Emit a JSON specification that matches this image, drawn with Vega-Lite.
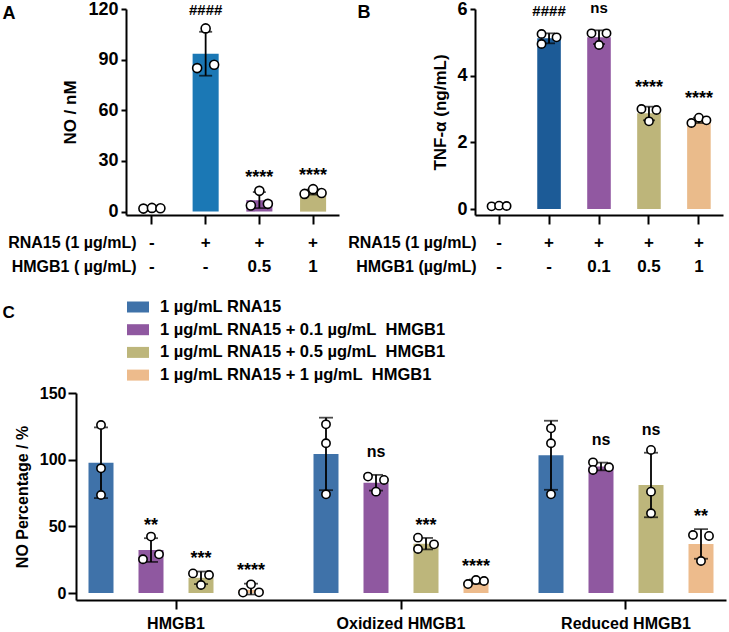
{
  "$schema": "https://vega.github.io/schema/vega-lite/v6.json",
  "padding": {"left": 2, "top": 0, "right": 0, "bottom": 0},
  "config": {
    "view": {"stroke": null},
    "font": "Liberation Sans",
    "axis": {"domainColor": "black", "tickColor": "black", "labelColor": "black", "titleColor": "black", "labelFontWeight": "bold", "titleFontWeight": "bold", "domainWidth": 2, "tickWidth": 2, "grid": false},
    "legend": {"labelColor": "black"}
  },
  "datasets": {
    "A_bars": [
      {"cond": "-|-", "mean": 2.0, "lo": 1.8, "hi": 2.2, "sig": ""},
      {"cond": "+|-", "mean": 93.5, "lo": 80.5, "hi": 106.5, "sig": "####"},
      {"cond": "+|0.5", "mean": 6.8, "lo": 2.1, "hi": 11.6, "sig": "****"},
      {"cond": "+|1", "mean": 11.6, "lo": 10.1, "hi": 13.1, "sig": "****"}
    ],
    "A_pts": [
      {"cond": "-|-", "pos": "L", "v": 1.8}, {"cond": "-|-", "pos": "C", "v": 2.2}, {"cond": "-|-", "pos": "R", "v": 2.0},
      {"cond": "+|-", "pos": "L", "v": 85.0}, {"cond": "+|-", "pos": "C", "v": 108.5}, {"cond": "+|-", "pos": "R", "v": 87.0},
      {"cond": "+|0.5", "pos": "L", "v": 3.6}, {"cond": "+|0.5", "pos": "C", "v": 12.3}, {"cond": "+|0.5", "pos": "R", "v": 4.6},
      {"cond": "+|1", "pos": "L", "v": 10.5}, {"cond": "+|1", "pos": "C", "v": 13.3}, {"cond": "+|1", "pos": "R", "v": 11.0}
    ],
    "B_bars": [
      {"cond": "-|-", "mean": 0.09, "lo": 0.07, "hi": 0.11, "sig": ""},
      {"cond": "+|-", "mean": 5.12, "lo": 4.97, "hi": 5.27, "sig": "####"},
      {"cond": "+|0.1", "mean": 5.15, "lo": 4.95, "hi": 5.36, "sig": "ns"},
      {"cond": "+|0.5", "mean": 2.87, "lo": 2.66, "hi": 3.07, "sig": "****"},
      {"cond": "+|1", "mean": 2.66, "lo": 2.58, "hi": 2.74, "sig": "****"}
    ],
    "B_pts": [
      {"cond": "-|-", "pos": "L", "v": 0.08}, {"cond": "-|-", "pos": "C", "v": 0.1}, {"cond": "-|-", "pos": "R", "v": 0.09},
      {"cond": "+|-", "pos": "L", "v": 5.25}, {"cond": "+|-", "pos": "L", "v": 4.95}, {"cond": "+|-", "pos": "R", "v": 5.15},
      {"cond": "+|0.1", "pos": "L", "v": 5.27}, {"cond": "+|0.1", "pos": "C", "v": 4.92}, {"cond": "+|0.1", "pos": "R", "v": 5.27},
      {"cond": "+|0.5", "pos": "L", "v": 3.0}, {"cond": "+|0.5", "pos": "C", "v": 2.63}, {"cond": "+|0.5", "pos": "R", "v": 2.97},
      {"cond": "+|1", "pos": "L", "v": 2.58}, {"cond": "+|1", "pos": "C", "v": 2.74}, {"cond": "+|1", "pos": "R", "v": 2.66}
    ],
    "C_bars": [
      {"group": "HMGB1", "series": "1 µg/mL RNA15", "mean": 97.7, "lo": 71.2, "hi": 124.2, "sig": ""},
      {"group": "HMGB1", "series": "1 µg/mL RNA15 + 0.1 µg/mL  HMGB1", "mean": 32.2, "lo": 23.3, "hi": 41.1, "sig": "**"},
      {"group": "HMGB1", "series": "1 µg/mL RNA15 + 0.5 µg/mL  HMGB1", "mean": 11.4, "lo": 6.7, "hi": 16.1, "sig": "***"},
      {"group": "HMGB1", "series": "1 µg/mL RNA15 + 1 µg/mL  HMGB1", "mean": 2.4, "lo": -1.1, "hi": 7.0, "sig": "****"},
      {"group": "Oxidized HMGB1", "series": "1 µg/mL RNA15", "mean": 104.3, "lo": 77.1, "hi": 131.5, "sig": ""},
      {"group": "Oxidized HMGB1", "series": "1 µg/mL RNA15 + 0.1 µg/mL  HMGB1", "mean": 82.7, "lo": 76.8, "hi": 88.6, "sig": "ns"},
      {"group": "Oxidized HMGB1", "series": "1 µg/mL RNA15 + 0.5 µg/mL  HMGB1", "mean": 37.0, "lo": 32.7, "hi": 41.3, "sig": "***"},
      {"group": "Oxidized HMGB1", "series": "1 µg/mL RNA15 + 1 µg/mL  HMGB1", "mean": 8.5, "lo": 6.9, "hi": 10.1, "sig": "****"},
      {"group": "Reduced HMGB1", "series": "1 µg/mL RNA15", "mean": 103.3, "lo": 77.4, "hi": 129.2, "sig": ""},
      {"group": "Reduced HMGB1", "series": "1 µg/mL RNA15 + 0.1 µg/mL  HMGB1", "mean": 94.9, "lo": 92.0, "hi": 97.8, "sig": "ns"},
      {"group": "Reduced HMGB1", "series": "1 µg/mL RNA15 + 0.5 µg/mL  HMGB1", "mean": 81.0, "lo": 56.8, "hi": 105.2, "sig": "ns"},
      {"group": "Reduced HMGB1", "series": "1 µg/mL RNA15 + 1 µg/mL  HMGB1", "mean": 36.8, "lo": 25.7, "hi": 47.9, "sig": "**"}
    ],
    "C_pts": [
      {"group": "HMGB1", "series": "1 µg/mL RNA15", "pos": "C", "v": 126.0},
      {"group": "HMGB1", "series": "1 µg/mL RNA15", "pos": "C", "v": 93.5},
      {"group": "HMGB1", "series": "1 µg/mL RNA15", "pos": "C", "v": 73.5},
      {"group": "HMGB1", "series": "1 µg/mL RNA15 + 0.1 µg/mL  HMGB1", "pos": "C", "v": 42.3},
      {"group": "HMGB1", "series": "1 µg/mL RNA15 + 0.1 µg/mL  HMGB1", "pos": "L", "v": 25.3},
      {"group": "HMGB1", "series": "1 µg/mL RNA15 + 0.1 µg/mL  HMGB1", "pos": "R", "v": 29.0},
      {"group": "HMGB1", "series": "1 µg/mL RNA15 + 0.5 µg/mL  HMGB1", "pos": "L", "v": 14.7},
      {"group": "HMGB1", "series": "1 µg/mL RNA15 + 0.5 µg/mL  HMGB1", "pos": "R", "v": 13.5},
      {"group": "HMGB1", "series": "1 µg/mL RNA15 + 0.5 µg/mL  HMGB1", "pos": "C", "v": 6.0},
      {"group": "HMGB1", "series": "1 µg/mL RNA15 + 1 µg/mL  HMGB1", "pos": "C", "v": 6.5},
      {"group": "HMGB1", "series": "1 µg/mL RNA15 + 1 µg/mL  HMGB1", "pos": "L", "v": 0.3},
      {"group": "HMGB1", "series": "1 µg/mL RNA15 + 1 µg/mL  HMGB1", "pos": "R", "v": 0.5},
      {"group": "Oxidized HMGB1", "series": "1 µg/mL RNA15", "pos": "C", "v": 126.5},
      {"group": "Oxidized HMGB1", "series": "1 µg/mL RNA15", "pos": "C", "v": 112.3},
      {"group": "Oxidized HMGB1", "series": "1 µg/mL RNA15", "pos": "C", "v": 74.0},
      {"group": "Oxidized HMGB1", "series": "1 µg/mL RNA15 + 0.1 µg/mL  HMGB1", "pos": "L", "v": 87.3},
      {"group": "Oxidized HMGB1", "series": "1 µg/mL RNA15 + 0.1 µg/mL  HMGB1", "pos": "R", "v": 84.8},
      {"group": "Oxidized HMGB1", "series": "1 µg/mL RNA15 + 0.1 µg/mL  HMGB1", "pos": "C", "v": 76.0},
      {"group": "Oxidized HMGB1", "series": "1 µg/mL RNA15 + 0.5 µg/mL  HMGB1", "pos": "L", "v": 41.5},
      {"group": "Oxidized HMGB1", "series": "1 µg/mL RNA15 + 0.5 µg/mL  HMGB1", "pos": "L", "v": 33.0},
      {"group": "Oxidized HMGB1", "series": "1 µg/mL RNA15 + 0.5 µg/mL  HMGB1", "pos": "R", "v": 36.5},
      {"group": "Oxidized HMGB1", "series": "1 µg/mL RNA15 + 1 µg/mL  HMGB1", "pos": "L", "v": 6.7},
      {"group": "Oxidized HMGB1", "series": "1 µg/mL RNA15 + 1 µg/mL  HMGB1", "pos": "C", "v": 9.75},
      {"group": "Oxidized HMGB1", "series": "1 µg/mL RNA15 + 1 µg/mL  HMGB1", "pos": "R", "v": 9.0},
      {"group": "Reduced HMGB1", "series": "1 µg/mL RNA15", "pos": "C", "v": 123.5},
      {"group": "Reduced HMGB1", "series": "1 µg/mL RNA15", "pos": "C", "v": 112.3},
      {"group": "Reduced HMGB1", "series": "1 µg/mL RNA15", "pos": "C", "v": 74.0},
      {"group": "Reduced HMGB1", "series": "1 µg/mL RNA15 + 0.1 µg/mL  HMGB1", "pos": "L", "v": 98.0},
      {"group": "Reduced HMGB1", "series": "1 µg/mL RNA15 + 0.1 µg/mL  HMGB1", "pos": "L", "v": 92.3},
      {"group": "Reduced HMGB1", "series": "1 µg/mL RNA15 + 0.1 µg/mL  HMGB1", "pos": "R", "v": 94.3},
      {"group": "Reduced HMGB1", "series": "1 µg/mL RNA15 + 0.5 µg/mL  HMGB1", "pos": "C", "v": 107.3},
      {"group": "Reduced HMGB1", "series": "1 µg/mL RNA15 + 0.5 µg/mL  HMGB1", "pos": "C", "v": 76.0},
      {"group": "Reduced HMGB1", "series": "1 µg/mL RNA15 + 0.5 µg/mL  HMGB1", "pos": "C", "v": 59.8},
      {"group": "Reduced HMGB1", "series": "1 µg/mL RNA15 + 1 µg/mL  HMGB1", "pos": "L", "v": 43.5},
      {"group": "Reduced HMGB1", "series": "1 µg/mL RNA15 + 1 µg/mL  HMGB1", "pos": "R", "v": 42.8},
      {"group": "Reduced HMGB1", "series": "1 µg/mL RNA15 + 1 µg/mL  HMGB1", "pos": "C", "v": 24.0}
    ]
  },
  "resolve": {"scale": {"color": "independent", "shape": "independent", "x": "independent", "y": "independent"}},
  "spacing": 21,
  "vconcat": [
    {
      "spacing": 8,
      "resolve": {"scale": {"color": "independent", "shape": "independent", "x": "independent", "y": "independent"}},
      "hconcat": [
        {
          "width": 213,
          "height": 206,
          "resolve": {"axis": {"x": "independent"}},
          "layer": [
            {"data": {"name": "A_bars"}, "mark": {"type": "bar"},
              "encoding": {
                "x": {"field": "cond", "type": "nominal", "scale": {"domain": ["-|-", "+|-", "+|0.5", "+|1"], "paddingInner": 0.515, "paddingOuter": 0.24},
                  "axis": {"orient": "bottom", "title": ["RNA15 (1 µg/mL)", "HMGB1 ( µg/mL)"], "labelExpr": "split(datum.value, '|')", "labelAngle": 0, "labelFontSize": 17, "labelLineHeight": 24, "labelPadding": 10, "tickSize": 9, "titleFontSize": 16, "titleX": 10, "titleY": 19.5, "titleAlign": "right", "titleBaseline": "top", "titleLineHeight": 24, "titleAngle": 0}},
                "y": {"field": "mean", "type": "quantitative", "title": "NO / nM", "scale": {"domain": [-2, 120], "nice": false, "zero": false},
                  "axis": {"values": [0, 30, 60, 90, 120], "tickSize": 5, "labelFontSize": 18, "titleFontSize": 17, "titlePadding": 8, "labelPadding": 3}},
                "color": {"field": "cond", "type": "nominal", "scale": {"domain": ["-|-", "+|-", "+|0.5", "+|1"], "range": ["#c6daf0", "#1b78b5", "#8e56a0", "#bdb57a"]}, "legend": null}
              }},
            {"data": {"name": "A_bars"}, "mark": {"type": "rule", "color": "black", "strokeWidth": 1.8},
              "encoding": {
                "x": {"field": "cond", "type": "nominal",
                  "axis": {"orient": "top", "domain": false, "ticks": false, "labels": false, "title": "A", "titleX": -124, "titleY": 4, "titleAlign": "left", "titleBaseline": "middle", "titleAngle": 0, "titleFontSize": 18, "titleFontWeight": "bold"}},
                "y": {"field": "lo", "type": "quantitative", "title": "NO / nM"}, "y2": {"field": "hi"}}},
            {"data": {"name": "A_bars"}, "mark": {"type": "tick", "color": "black", "size": 13, "thickness": 1.8},
              "encoding": {"x": {"field": "cond", "type": "nominal", "axis": null}, "y": {"field": "lo", "type": "quantitative", "title": "NO / nM"}}},
            {"data": {"name": "A_bars"}, "mark": {"type": "tick", "color": "black", "size": 13, "thickness": 1.8},
              "encoding": {"x": {"field": "cond", "type": "nominal", "axis": null}, "y": {"field": "hi", "type": "quantitative", "title": "NO / nM"}}},
            {"data": {"name": "A_pts"}, "mark": {"type": "point", "filled": true, "fill": "white", "stroke": "black", "strokeWidth": 1.6, "size": 324, "opacity": 1},
              "encoding": {"x": {"field": "cond", "type": "nominal", "axis": null}, "y": {"field": "v", "type": "quantitative", "title": "NO / nM"},
                "shape": {"field": "pos", "type": "nominal", "scale": {"domain": ["L", "C", "R"], "range": ["M-1.444,0A0.5,0.5,0,1,0,-0.444,0A0.5,0.5,0,1,0,-1.444,0Z", "M-0.5,0A0.5,0.5,0,1,0,0.5,0A0.5,0.5,0,1,0,-0.5,0Z", "M0.444,0A0.5,0.5,0,1,0,1.444,0A0.5,0.5,0,1,0,0.444,0Z"]}, "legend": null}}},
            {"data": {"name": "A_bars"}, "transform": [{"filter": "test(/#/, datum.sig)"}],
              "mark": {"type": "text", "fontSize": 15, "fontWeight": "bold", "color": "black", "baseline": "alphabetic", "dy": -17},
              "encoding": {"x": {"field": "cond", "type": "nominal", "axis": null}, "y": {"field": "hi", "type": "quantitative", "title": "NO / nM"}, "text": {"field": "sig"}}},
            {"data": {"name": "A_bars"}, "transform": [{"filter": "test(/[*]/, datum.sig)"}],
              "mark": {"type": "text", "fontSize": 18, "fontWeight": "bold", "color": "black", "baseline": "alphabetic", "dy": -9},
              "encoding": {"x": {"field": "cond", "type": "nominal", "axis": null}, "y": {"field": "hi", "type": "quantitative", "title": "NO / nM"}, "text": {"field": "sig"}}}
          ]
        },
        {
          "width": 248,
          "height": 206,
          "resolve": {"axis": {"x": "independent"}},
          "layer": [
            {"data": {"name": "B_bars"}, "mark": {"type": "bar"},
              "encoding": {
                "x": {"field": "cond", "type": "nominal", "scale": {"domain": ["-|-", "+|-", "+|0.1", "+|0.5", "+|1"], "paddingInner": 0.528, "paddingOuter": 0.246},
                  "axis": {"orient": "bottom", "title": ["RNA15 (1 µg/mL)", "HMGB1 (µg/mL)"], "labelExpr": "split(datum.value, '|')", "labelAngle": 0, "labelFontSize": 17, "labelLineHeight": 24, "labelPadding": 10, "tickSize": 9, "titleFontSize": 16, "titleX": 1, "titleY": 19.5, "titleAlign": "right", "titleBaseline": "top", "titleLineHeight": 24, "titleAngle": 0}},
                "y": {"field": "mean", "type": "quantitative", "title": "TNF-α (ng/mL)", "scale": {"domain": [-0.18, 6], "nice": false, "zero": false},
                  "axis": {"values": [0, 2, 4, 6], "tickSize": 5, "labelFontSize": 18, "titleFontSize": 17, "titlePadding": 7, "labelPadding": 3}},
                "color": {"field": "cond", "type": "nominal", "scale": {"domain": ["-|-", "+|-", "+|0.1", "+|0.5", "+|1"], "range": ["#c6daf0", "#1c5b97", "#9158a1", "#bdb57a", "#eabb8b"]}, "legend": null}
              }},
            {"data": {"name": "B_bars"}, "mark": {"type": "rule", "color": "black", "strokeWidth": 1.8},
              "encoding": {
                "x": {"field": "cond", "type": "nominal",
                  "axis": {"orient": "top", "domain": false, "ticks": false, "labels": false, "title": "B", "titleX": -118, "titleY": 3, "titleAlign": "left", "titleBaseline": "middle", "titleAngle": 0, "titleFontSize": 18, "titleFontWeight": "bold"}},
                "y": {"field": "lo", "type": "quantitative", "title": "TNF-α (ng/mL)"}, "y2": {"field": "hi"}}},
            {"data": {"name": "B_bars"}, "mark": {"type": "tick", "color": "black", "size": 12, "thickness": 1.8},
              "encoding": {"x": {"field": "cond", "type": "nominal", "axis": null}, "y": {"field": "lo", "type": "quantitative", "title": "TNF-α (ng/mL)"}}},
            {"data": {"name": "B_bars"}, "mark": {"type": "tick", "color": "black", "size": 12, "thickness": 1.8},
              "encoding": {"x": {"field": "cond", "type": "nominal", "axis": null}, "y": {"field": "hi", "type": "quantitative", "title": "TNF-α (ng/mL)"}}},
            {"data": {"name": "B_pts"}, "mark": {"type": "point", "filled": true, "fill": "white", "stroke": "black", "strokeWidth": 1.6, "size": 276, "opacity": 1},
              "encoding": {"x": {"field": "cond", "type": "nominal", "axis": null}, "y": {"field": "v", "type": "quantitative", "title": "TNF-α (ng/mL)"},
                "shape": {"field": "pos", "type": "nominal", "scale": {"domain": ["L", "C", "R"], "range": ["M-1.404,0A0.5,0.5,0,1,0,-0.404,0A0.5,0.5,0,1,0,-1.404,0Z", "M-0.5,0A0.5,0.5,0,1,0,0.5,0A0.5,0.5,0,1,0,-0.5,0Z", "M0.404,0A0.5,0.5,0,1,0,1.404,0A0.5,0.5,0,1,0,0.404,0Z"]}, "legend": null}}},
            {"data": {"name": "B_bars"}, "transform": [{"filter": "test(/[#n]/, datum.sig)"}],
              "mark": {"type": "text", "fontSize": 15, "fontWeight": "bold", "color": "black", "baseline": "alphabetic", "dy": -17},
              "encoding": {"x": {"field": "cond", "type": "nominal", "axis": null}, "y": {"field": "hi", "type": "quantitative", "title": "TNF-α (ng/mL)"}, "text": {"field": "sig"}}},
            {"data": {"name": "B_bars"}, "transform": [{"filter": "test(/[*]/, datum.sig)"}],
              "mark": {"type": "text", "fontSize": 18, "fontWeight": "bold", "color": "black", "baseline": "alphabetic", "dy": -14},
              "encoding": {"x": {"field": "cond", "type": "nominal", "axis": null}, "y": {"field": "hi", "type": "quantitative", "title": "TNF-α (ng/mL)"}, "text": {"field": "sig"}}}
          ]
        }
      ]
    },
    {
      "width": 600,
      "height": 207,
      "resolve": {"axis": {"x": "independent"}},
      "layer": [
        {"data": {"name": "C_bars"}, "mark": {"type": "bar"},
          "encoding": {
            "x": {"field": "group", "type": "nominal", "scale": {"domain": ["HMGB1", "Oxidized HMGB1", "Reduced HMGB1"], "paddingInner": 0.1111, "paddingOuter": 0, "range": [-50, 600]},
              "axis": {"orient": "bottom", "title": null, "labelAngle": 0, "labelFontSize": 16, "tickSize": 9, "labelPadding": 6}},
            "xOffset": {"field": "series", "type": "nominal", "scale": {"domain": ["1 µg/mL RNA15", "1 µg/mL RNA15 + 0.1 µg/mL  HMGB1", "1 µg/mL RNA15 + 0.5 µg/mL  HMGB1", "1 µg/mL RNA15 + 1 µg/mL  HMGB1"], "paddingInner": 0.5, "paddingOuter": 0.25}},
            "y": {"field": "mean", "type": "quantitative", "title": "NO Percentage / %", "scale": {"domain": [-5.25, 150], "nice": false, "zero": false},
              "axis": {"values": [0, 50, 100, 150], "offset": 50, "tickSize": 8, "labelFontSize": 16, "titleFontSize": 16, "titlePadding": 9, "labelPadding": 2}},
            "color": {"field": "series", "type": "nominal", "scale": {"domain": ["1 µg/mL RNA15", "1 µg/mL RNA15 + 0.1 µg/mL  HMGB1", "1 µg/mL RNA15 + 0.5 µg/mL  HMGB1", "1 µg/mL RNA15 + 1 µg/mL  HMGB1"], "range": ["#3f72a9", "#8f58a0", "#bdb67b", "#edbb8c"]},
              "legend": {"title": null, "orient": "none", "legendX": 1, "legendY": -97, "direction": "vertical", "symbolType": "M-1,-0.5H1V0.5H-1Z", "symbolSize": 484, "symbolStrokeWidth": 0, "symbolOpacity": 1, "labelFontSize": 16.5, "labelFontWeight": "bold", "labelOffset": 11, "rowPadding": 2.7, "labelLimit": 500, "padding": 0, "labelExpr": "replace(datum.label, '  ', '\u00a0 ')"}}
          }},
        {"data": {"name": "C_bars"}, "mark": {"type": "rule", "color": "black", "strokeWidth": 1.8},
          "encoding": {
            "x": {"field": "group", "type": "nominal",
              "axis": {"orient": "top", "domain": false, "ticks": false, "labels": false, "title": "C", "titleX": -124, "titleY": -81, "titleAlign": "left", "titleBaseline": "middle", "titleAngle": 0, "titleFontSize": 17, "titleFontWeight": "bold"}},
            "xOffset": {"field": "series", "type": "nominal"},
            "y": {"field": "lo", "type": "quantitative", "title": "NO Percentage / %"}, "y2": {"field": "hi"}}},
        {"data": {"name": "C_bars"}, "mark": {"type": "tick", "color": "black", "size": 14, "thickness": 1.8},
          "encoding": {"x": {"field": "group", "type": "nominal", "axis": null}, "xOffset": {"field": "series", "type": "nominal"}, "y": {"field": "lo", "type": "quantitative", "title": "NO Percentage / %"}}},
        {"data": {"name": "C_bars"}, "mark": {"type": "tick", "color": "black", "size": 14, "thickness": 1.8},
          "encoding": {"x": {"field": "group", "type": "nominal", "axis": null}, "xOffset": {"field": "series", "type": "nominal"}, "y": {"field": "hi", "type": "quantitative", "title": "NO Percentage / %"}}},
        {"data": {"name": "C_pts"}, "mark": {"type": "point", "filled": true, "fill": "white", "stroke": "black", "strokeWidth": 1.6, "size": 276, "opacity": 1},
          "encoding": {"x": {"field": "group", "type": "nominal", "axis": null}, "xOffset": {"field": "series", "type": "nominal"}, "y": {"field": "v", "type": "quantitative", "title": "NO Percentage / %"},
            "shape": {"field": "pos", "type": "nominal", "scale": {"domain": ["L", "C", "R"], "range": ["M-1.464,0A0.5,0.5,0,1,0,-0.464,0A0.5,0.5,0,1,0,-1.464,0Z", "M-0.5,0A0.5,0.5,0,1,0,0.5,0A0.5,0.5,0,1,0,-0.5,0Z", "M0.464,0A0.5,0.5,0,1,0,1.464,0A0.5,0.5,0,1,0,0.464,0Z"]}, "legend": null}}},
        {"data": {"name": "C_bars"}, "transform": [{"filter": "test(/[*]/, datum.sig)"}],
          "mark": {"type": "text", "fontSize": 18, "fontWeight": "bold", "color": "black", "baseline": "alphabetic", "dy": -7.3},
          "encoding": {"x": {"field": "group", "type": "nominal", "axis": null}, "xOffset": {"field": "series", "type": "nominal"}, "y": {"field": "hi", "type": "quantitative", "title": "NO Percentage / %"}, "text": {"field": "sig"}}},
        {"data": {"name": "C_bars"}, "transform": [{"filter": "datum.sig == 'ns'"}],
          "mark": {"type": "text", "fontSize": 16, "fontWeight": "bold", "color": "black", "baseline": "alphabetic", "dy": -17.5},
          "encoding": {"x": {"field": "group", "type": "nominal", "axis": null}, "xOffset": {"field": "series", "type": "nominal"}, "y": {"field": "hi", "type": "quantitative", "title": "NO Percentage / %"}, "text": {"field": "sig"}}}
      ]
    }
  ]
}
